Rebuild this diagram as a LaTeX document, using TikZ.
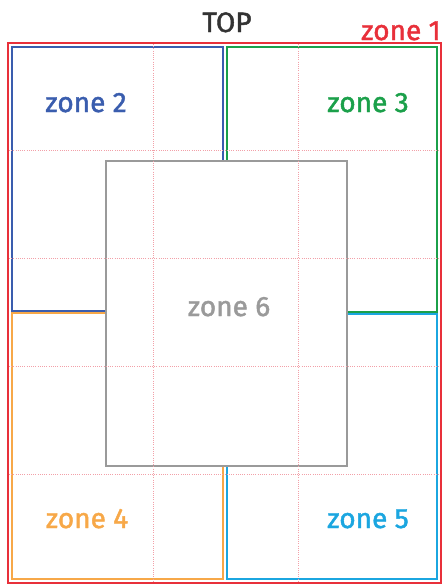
\documentclass[tikz,border=0pt]{standalone}
\usepackage{fontspec}
\setmainfont{Fira Sans}[BoldFont=Fira Sans, BoldFeatures={FakeBold=1.6}]
\definecolor{zred}{HTML}{E8303A}
\definecolor{zblue}{HTML}{3A5DAE}
\definecolor{zgreen}{HTML}{1BA04A}
\definecolor{zorange}{HTML}{F7A848}
\definecolor{zcyan}{HTML}{1BA6E0}
\definecolor{zgray}{HTML}{9A9A9A}
\definecolor{zgrid}{HTML}{F2A0A8}
\definecolor{ztop}{HTML}{333333}
\tikzset{
  zoneline/.style={line width=2.6pt},
  gridline/.style={zgrid, line width=0.9pt, dash pattern=on 1pt off 1.2pt},
  zlabel/.style={font=\fontsize{28}{30}\selectfont\bfseries, anchor=base, inner sep=0pt},
}
\begin{document}
\begin{tikzpicture}[x=1pt,y=-1pt]
\useasboundingbox (0,0) rectangle (444,584);
% outer zone 1
\draw[zred, line width=2.4pt] (8,43) rectangle (441,583);
% zones 2-5
\draw[zoneline, zblue] (12,47) rectangle (223,311);
\draw[zoneline, zgreen] (227,47) rectangle (437,312);
\draw[zoneline, zorange] (12,313) rectangle (223,579);
\draw[zoneline, zcyan] (227,314) rectangle (437,579);
% zone 6
\draw[zoneline, zgray, fill=white, line width=2.2pt] (106,161) rectangle (347,466);
% grid
\foreach \gx in {153,298} \draw[gridline] (\gx,44) -- (\gx,582);
\foreach \gy in {150,258,366,474} \draw[gridline] (9,\gy) -- (440,\gy);
% labels
\node[zlabel, ztop] (top) at (227,32) {TOP};
\node[zlabel, zred, anchor=base east] (z1) at (441,40) {zone 1};
\node[zlabel, zblue] (z2) at (86,112) {zone 2};
\node[zlabel, zgreen] (z3) at (368,112) {zone 3};
\node[zlabel, zgray] (z6) at (229,316) {zone 6};
\node[zlabel, zorange] (z4) at (87,528) {zone 4};
\node[zlabel, zcyan] (z5) at (368,528) {zone 5};
\end{tikzpicture}
\end{document}
